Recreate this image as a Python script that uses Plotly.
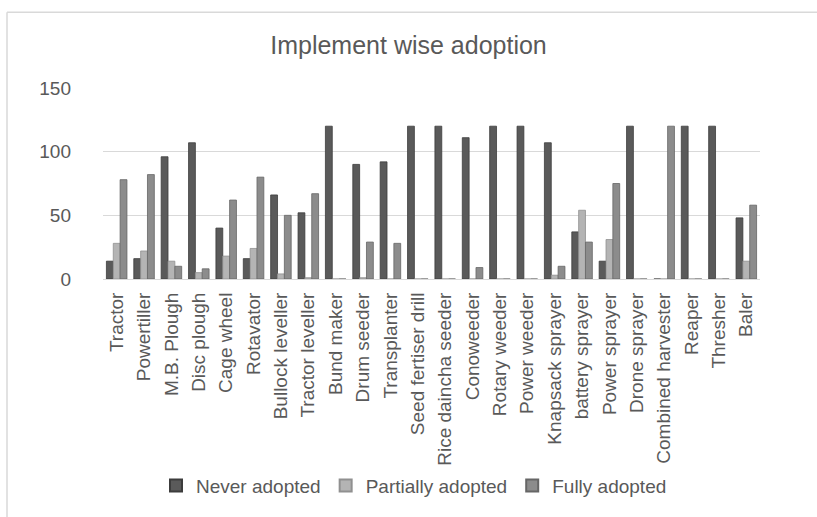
import plotly.graph_objects as go

categories = ["Tractor", "Powertiller", "M.B. Plough", "Disc plough", "Cage wheel", "Rotavator",
              "Bullock leveller", "Tractor leveller", "Bund maker", "Drum seeder", "Transplanter",
              "Seed fertiser drill", "Rice daincha seeder", "Conoweeder", "Rotary weeder",
              "Power weeder", "Knapsack sprayer", "battery sprayer", "Power sprayer",
              "Drone sprayer", "Combined harvester", "Reaper", "Thresher", "Baler"]
never_adopted = [14, 16, 96, 107, 40, 16, 66, 52, 120, 90, 92, 120, 120, 111, 120, 120, 107, 37, 14, 120, 0, 120, 120, 48]
partially_adopted = [28, 22, 14, 5, 18, 24, 4, 1, 0, 1, 0, 0, 0, 0, 0, 0, 3, 54, 31, 0, 0, 0, 0, 14]
fully_adopted = [78, 82, 10, 8, 62, 80, 50, 67, 0, 29, 28, 0, 0, 9, 0, 0, 10, 29, 75, 0, 120, 0, 0, 58]
y_ticks = [0, 50, 100, 150]

font = "Liberation Sans, Arial, sans-serif"
txt = "#595959"

fig = go.Figure()
for name, vals, col, edge in [("Never adopted", never_adopted, "#5a5a5a", "#3c3c3c"),
                              ("Partially adopted", partially_adopted, "#b4b4b4", "#909090"),
                              ("Fully adopted", fully_adopted, "#8c8c8c", "#666666")]:
    fig.add_trace(go.Bar(x=categories, y=vals, name=name,
                         marker=dict(color=col, line=dict(color=edge, width=0.8))))

L, R, T, B = 103, 57, 88, 235
W, H = 817, 517
pw, ph = W - L - R, H - T - B
def px(x): return (x - L) / pw
def py(y): return (H - B - y) / ph

fig.update_layout(
    width=W, height=H,
    margin=dict(l=L, r=R, t=T, b=B),
    paper_bgcolor="white", plot_bgcolor="white",
    barmode="group", bargap=0.25, bargroupgap=0.0,
    title=dict(text="Implement wise adoption", x=0.5, xanchor="center", y=1 - 45 / H, yanchor="middle",
               font=dict(family=font, size=25, color=txt)),
    font=dict(family=font, size=19, color=txt),
    xaxis=dict(tickangle=-90, showgrid=False, showline=True, linecolor="#d9d9d9", linewidth=1,
               ticks="", ticklabelstandoff=5, tickfont=dict(family=font, size=19, color=txt)),
    yaxis=dict(range=[0, 150], tickvals=y_ticks, showgrid=True, gridcolor="#d9d9d9", gridwidth=1.3,
               zeroline=False, showline=False, ticks="", ticklen=0, ticklabelstandoff=31,
               tickfont=dict(family=font, size=19, color=txt)),
    legend=dict(orientation="h", x=px(414), xanchor="center", y=py(492), yanchor="middle",
                font=dict(family=font, size=19, color=txt), itemwidth=30, traceorder="normal",
                itemsizing="constant", tracegroupgap=0),
    shapes=[
        dict(type="line", xref="paper", yref="paper", x0=px(7), x1=px(7), y0=py(11), y1=py(530),
             line=dict(color="#d9d9d9", width=1.5)),
        dict(type="line", xref="paper", yref="paper", x0=px(7), x1=px(830), y0=py(11), y1=py(11),
             line=dict(color="#d9d9d9", width=1.5)),
    ],
)
fig.write_html("out.html", config={"displayModeBar": False},
               post_script="document.body.style.margin='0px';")
